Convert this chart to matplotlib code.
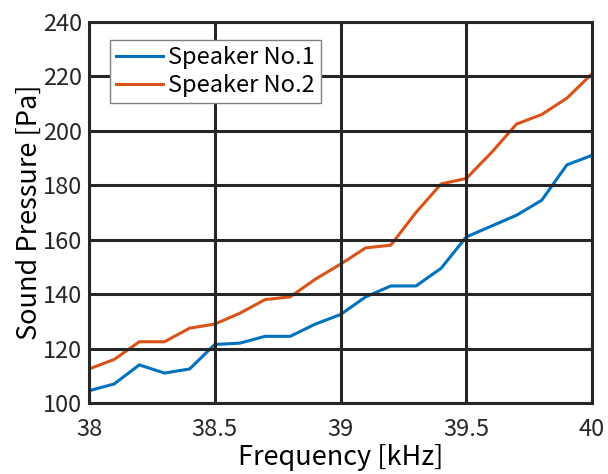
import matplotlib
matplotlib.use('Agg')
from matplotlib import pyplot as plt

plt.rcParams['font.family'] = ['Noto Sans CJK JP', 'DejaVu Sans']

freq_khz = [38.0, 38.1, 38.2, 38.3, 38.4, 38.5, 38.6, 38.7, 38.8, 38.9, 39.0,
            39.1, 39.2, 39.3, 39.4, 39.5, 39.6, 39.7, 39.8, 39.9, 40.0]
speaker1 = [104.5, 107, 114, 111, 112.5, 121.5, 122, 124.5, 124.5, 129, 132.5,
            139, 143, 143, 149.5, 161, 165, 169, 174.5, 187.5, 191]
speaker2 = [112.5, 116, 122.5, 122.5, 127.5, 129, 133, 138, 139, 145.5, 151,
            157, 158, 170, 180.5, 182.5, 192, 202.5, 206, 212, 221]
x_ticks = [38, 38.5, 39, 39.5, 40]
y_ticks = [100, 120, 140, 160, 180, 200, 220, 240]

fig = plt.figure(figsize=(6.08, 4.74), dpi=100)
ax = fig.add_axes([0.1464, 0.1498, 0.8273, 0.8038])

ax.plot(freq_khz, speaker1, color='#0072BD', linewidth=2.2, label='Speaker No.1')
ax.plot(freq_khz, speaker2, color='#D95319', linewidth=2.2, label='Speaker No.2')

ax.set_xlim(38, 40)
ax.set_ylim(100, 240)
ax.set_xticks(x_ticks)
ax.set_xticklabels(['38', '38.5', '39', '39.5', '40'])
ax.set_yticks(y_ticks)
ax.grid(True, color='#262626', linewidth=2.2, alpha=1)
ax.set_axisbelow(False)
for s in ax.spines.values():
    s.set_color('#262626')
    s.set_linewidth(2.2)
ax.tick_params(axis='both', labelsize=17, colors='#262626', length=0)
ax.tick_params(axis='x', pad=11)
ax.tick_params(axis='y', pad=5)
for lbl in ax.get_xticklabels() + ax.get_yticklabels():
    lbl.set_color('#262626')

ax.set_xlabel('Frequency [kHz]', fontsize=19.5, labelpad=2)
ax.set_ylabel('Sound Pressure [Pa]', fontsize=19.5, labelpad=0)

leg = ax.legend(loc='upper left', bbox_to_anchor=(0.042, 0.952), fontsize=17,
                fancybox=False, framealpha=1, edgecolor='#808080',
                handlelength=2.0, handletextpad=0.2, borderpad=0.25,
                labelspacing=0.2, borderaxespad=0)
leg.get_frame().set_linewidth(1.0)

fig.savefig('out.png', dpi=100)
plt.close(fig)
